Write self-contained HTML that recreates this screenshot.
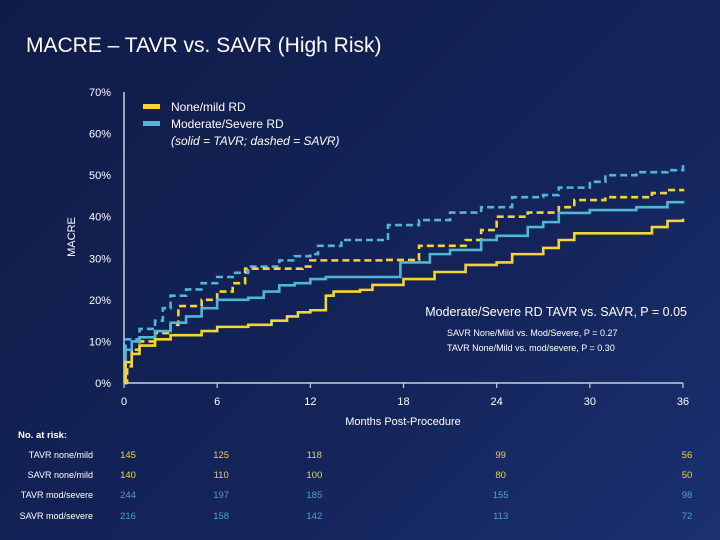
<!DOCTYPE html>
<html><head><meta charset="utf-8"><style>
body{margin:0;width:720px;height:540px;overflow:hidden;background:linear-gradient(135deg,#101c48 0%,#14245a 60%,#1a3170 100%);font-family:"Liberation Sans",sans-serif}
svg{position:absolute;left:0;top:0}
</style></head><body>
<svg width="720" height="540">
<text x="26" y="52" fill="#fff" font-size="21">MACRE – TAVR vs. SAVR (High Risk)</text>
<g id="axes"></g>
<g id="series"></g>
<g>
<rect x="143" y="104" width="17" height="5" fill="#f5d531"/>
<text x="171" y="111" fill="#fff" font-size="12">None/mild RD</text>
<rect x="143" y="121" width="17" height="5" fill="#4fb6d8"/>
<text x="171" y="128" fill="#fff" font-size="12">Moderate/Severe RD</text>
<text x="171" y="145" fill="#fff" font-size="12" font-style="italic">(solid = TAVR; dashed = SAVR)</text>
</g>
<text x="687" y="316" fill="#fff" font-size="12.5" text-anchor="end">Moderate/Severe RD TAVR vs. SAVR, P = 0.05</text>
<text x="447" y="336" fill="#fff" font-size="9">SAVR None/Mild vs. Mod/Severe, P = 0.27</text>
<text x="447" y="351" fill="#fff" font-size="9">TAVR None/Mild vs. mod/severe, P = 0.30</text>
<text x="75" y="237" fill="#fff" font-size="11" text-anchor="middle" transform="rotate(-90 75 237)">MACRE</text>
<text x="403" y="425" fill="#fff" font-size="11" text-anchor="middle">Months Post-Procedure</text>
<text x="18" y="438" fill="#fff" font-size="9.5" font-weight="bold">No. at risk:</text>
<g id="risk"></g>
</svg>
<script>
const yTicks=[0,10,20,30,40,50,60,70];
const xTicks=[0,6,12,18,24,30,36];
const tavrNoneM=[0,0.1,0.5,1,2,3,5,6,8,9.5,10.5,11.2,12,13,13.5,15.2,16,18,20,22,24,25,27,28,29,34,35,36];
const tavrNoneV=[0,5,7,9,10.5,11.5,12.5,13.5,14,15,16,17,17.5,21,22,22.4,23.6,25,26.7,28.4,29,31,32.5,34.4,36,37.5,39,39.5];
const savrNoneM=[0,0.2,0.5,1,2,3,3.5,5,6,7,7.8,10,11.5,12,16.7,19,20,22,23,24,26,28,29,31,34,35,36];
const savrNoneV=[0,4,8,10,12,14,18.5,20,22,24,27.5,27.5,28,29.5,29.6,33,33,34.4,36.8,40,41,42.3,44,44.7,45.7,46.4,46.7];
const tavrModM=[0,0.1,0.5,1,2,3,4,5,6,8,9,10,11,12,13,15.2,17.8,19.7,21,23,24,26,27,28,30,33,35,36];
const tavrModV=[0,8,10,11,12.5,14.5,16,18,20,20.5,22,23.5,24,25,25.5,25.5,29,31,32,34.4,35.4,37.5,38.7,40.9,41.6,42.3,43.5,43.8];
const savrModM=[0,0.1,1,2,2.5,3,4,5,6,7,8,10,11,12,12.5,14,17,19,21,23,25,27,28,30,31,33,35,36];
const savrModV=[0,10.5,13,15,18,21,22.5,24,25.5,26.5,28,29.5,30.5,31,33,34.4,38,39.2,41,42.3,44.7,45.2,47,48.4,50,50.7,51.2,52.4];
const riskRows=["TAVR none/mild","SAVR none/mild","TAVR mod/severe","SAVR mod/severe"];
const riskMonths=[0,6,12,24,36];
const riskTN=[145,125,118,99,56];
const riskSN=[140,110,100,80,50];
const riskTM=[244,197,185,155,98];
const riskSM=[216,158,142,113,72];
const X=m=>124+m*(683-124)/36, Y=v=>383-v*(383-92)/70;
const NS="http://www.w3.org/2000/svg";
function mk(t,a,p){const e=document.createElementNS(NS,t);for(const k in a)e.setAttribute(k,a[k]);p.appendChild(e);return e;}
const ax=document.getElementById('axes');
let l=mk('line',{x1:X(0),y1:Y(70),x2:X(0),y2:Y(0),stroke:'#c8cfe0','stroke-width':1.5},ax);

l=mk('line',{x1:X(0),y1:Y(0),x2:X(36),y2:Y(0),stroke:'#c8cfe0','stroke-width':1.5},ax);

yTicks.forEach(v=>{const t=mk('text',{x:111,y:Y(v)+4,fill:'#fff','font-size':11,'text-anchor':'end'},ax);t.textContent=v+'%';
});
xTicks.forEach(m=>{const tk=mk('line',{x1:X(m),y1:Y(0),x2:X(m),y2:Y(0)+5,stroke:'#c8cfe0','stroke-width':1.2},ax);

const t=mk('text',{x:X(m),y:405,fill:'#fff','font-size':11,'text-anchor':'middle'},ax);t.textContent=m;
});
const sg=document.getElementById('series');
function step(ms,vs,col,dash,name){let d='M'+X(ms[0])+','+Y(vs[0]);
for(let i=1;i<ms.length;i++){d+=' H'+X(ms[i])+' V'+Y(vs[i]);}
const p=mk('path',{d:d,fill:'none',stroke:col,'stroke-width':2.6,'stroke-dasharray':dash?'7,4':'none'},sg);
}
step(savrModM,savrModV,'#4fb6d8',true,'line-savr-mod-severe');
step(savrNoneM,savrNoneV,'#f5d531',true,'line-savr-none-mild');
step(tavrModM,tavrModV,'#4fb6d8',false,'line-tavr-mod-severe');
step(tavrNoneM,tavrNoneV,'#f5d531',false,'line-tavr-none-mild');
const rg=document.getElementById('risk');
const rdata=[riskTN,riskSN,riskTM,riskSM];
const rcol=['#e8d25a','#e8d25a','#4aa3cc','#4aa3cc'];
const ry=[458,478,498,519];
riskRows.forEach((r,i)=>{const t=mk('text',{x:93,y:ry[i],fill:'#fff','font-size':9,'text-anchor':'end'},rg);t.textContent=r;

riskMonths.forEach((m,j)=>{const c=mk('text',{x:X(m)+4,y:ry[i],fill:rcol[i],'font-size':9.5,'text-anchor':'middle'},rg);c.textContent=rdata[i][j];
});});
</script>
</body></html>
